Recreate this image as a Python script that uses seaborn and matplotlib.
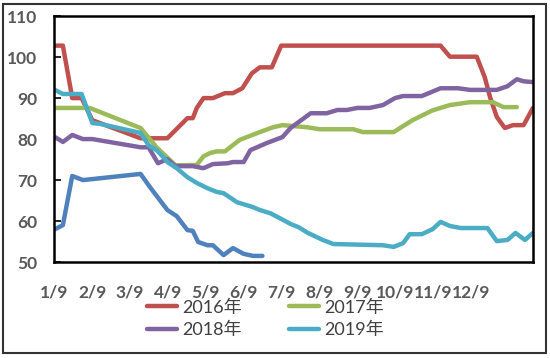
import matplotlib
matplotlib.use("Agg")
import matplotlib.pyplot as plt
import numpy as np
import pandas as pd
import seaborn as sns
from matplotlib.patches import Rectangle

# x values are days counted from 1/9
red_days = [0, 6, 13, 20, 28, 64, 84, 99, 103, 106, 111, 118, 127, 133, 140, 147, 153, 162, 169,
            288, 295, 315, 321, 325, 330, 336, 342, 350, 357]
red_vals = [102.8, 102.8, 90, 90, 84.6, 80.2, 80.2, 85.1, 85.1, 87.6, 90, 90, 91.2, 91.2, 92.4, 96,
            97.5, 97.5, 102.8, 102.8, 100.1, 100.1, 95.1, 90.2, 85.4, 82.7, 83.4, 83.4, 87.6]

green_days = [0, 26, 64, 76, 90, 106, 111, 116, 121, 127, 138, 153, 163, 170, 188, 198, 223, 230,
              253, 267, 282, 295, 310, 327, 335, 345]
green_vals = [87.6, 87.6, 82.7, 78, 73.6, 73.7, 75.8, 76.6, 77, 77, 79.8, 81.7, 82.9, 83.4, 82.9,
              82.4, 82.4, 81.7, 81.7, 84.6, 87, 88.3, 89, 89, 87.8, 87.8]

purple_days = [0, 6, 13, 21, 28, 64, 70, 77, 84, 90, 103, 111, 118, 129, 133, 141, 146, 158, 170,
               176, 191, 203, 211, 218, 226, 235, 245, 254, 260, 274, 288, 301, 310, 330, 338, 345,
               350, 357]
purple_vals = [80.5, 79.3, 81, 80, 80, 78, 78, 74.1, 75.1, 73.4, 73.4, 72.9, 73.9, 74.1, 74.4, 74.4,
               77.3, 79, 80.5, 82.7, 86.3, 86.3, 87.1, 87.1, 87.6, 87.6, 88.3, 90, 90.5, 90.5, 92.4,
               92.4, 92, 92, 92.9, 94.6, 94.1, 93.9]

cyan_days = [0, 6, 20, 28, 34, 64, 70, 76, 81, 84, 91, 99, 106, 114, 121, 126, 136, 148, 153, 161,
             168, 176, 182, 189, 200, 208, 245, 253, 260, 265, 274, 282, 288, 295, 303, 323, 330,
             338, 344, 351, 357]
cyan_vals = [92, 91, 91, 83.9, 83.7, 81.5, 78.5, 77.3, 75.6, 74.4, 72.9, 70.7, 69.3, 68, 67.1, 66.8,
             64.6, 63.4, 62.7, 61.9, 60.7, 59.3, 58.5, 57.1, 55.4, 54.4, 54.1, 53.7, 54.6, 56.8,
             56.8, 58, 59.8, 58.8, 58.3, 58.3, 55.1, 55.4, 57.1, 55.4, 57.1]

blue_days = [0, 6, 13, 21, 64, 71, 84, 91, 99, 103, 107, 114, 118, 126, 133, 141, 148, 155]
blue_vals = [58, 59, 71, 70, 71.5, 68.3, 62.7, 61.2, 57.8, 57.6, 54.9, 54.1, 54.1, 51.7, 53.4, 52,
             51.5, 51.5]

years = ["2016年", "2017年", "2018年", "2019年", "2020年"]
colors = ["#C0504D", "#9BBB59", "#8064A2", "#4BACC6", "#4F81BD"]
month_labels = ["1/9", "2/9", "3/9", "4/9", "5/9", "6/9", "7/9", "8/9", "9/9", "10/9", "11/9", "12/9"]
month_days = [0, 31, 59, 90, 120, 151, 181, 212, 243, 273, 304, 334]

series = [(red_days, red_vals), (green_days, green_vals), (purple_days, purple_vals),
          (cyan_days, cyan_vals), (blue_days, blue_vals)]
df = pd.concat(
    [pd.DataFrame({"day": d, "value": v, "year": y}) for (d, v), y in zip(series, years)],
    ignore_index=True,
)

sns.set_style("white")
plt.rcParams["font.family"] = ["Lato", "Noto Sans CJK SC", "DejaVu Sans"]

fig = plt.figure(figsize=(5.5, 3.58), dpi=100)
ax = fig.add_axes([0.098, 0.268, 0.871, 0.687])

sns.lineplot(data=df, x="day", y="value", hue="year", hue_order=years,
             palette=colors, linewidth=3.2, legend=False, ax=ax)

ax.set_xlim(-0.7, 357)
ax.set_ylim(50, 110)
ax.set_yticks(range(50, 111, 10))
ax.set_xticks(np.linspace(-0.5, 311, 12))
ax.set_xticklabels(month_labels)
ax.set_xticks(month_days, minor=True)
ax.set_xlabel("")
ax.set_ylabel("")

ax.tick_params(axis="x", which="major", length=0, pad=16)
ax.tick_params(axis="x", which="minor", direction="in", length=5, width=1.2, color="black")
ax.tick_params(axis="y", direction="in", length=5, width=1.2, color="black", pad=12, left=True)
for lbl in ax.get_xticklabels() + ax.get_yticklabels():
    lbl.set_fontsize(12.5)
    lbl.set_fontweight("bold")
    lbl.set_color("#595959")

for sp in ax.spines.values():
    sp.set_visible(True)
    sp.set_color("black")
    sp.set_linewidth(1.8)

# ncol=2 fills column by column, so reorder to get 2016/2017 on the first row
lines = ax.get_lines()
order = [0, 2, 1, 3]
fig.legend([lines[i] for i in order], [years[i] for i in order], loc="center",
           bbox_to_anchor=(0.482, 0.109), ncol=2, frameon=False, fontsize=13,
           handlelength=1.7, handletextpad=0.25, columnspacing=2.6, labelspacing=0.35,
           labelcolor="#404040")

fig.patches.append(Rectangle((0.006, 0.014), 0.986, 0.975, transform=fig.transFigure,
                             fill=False, edgecolor="#333333", linewidth=1.5))

fig.savefig("out.png", dpi=100)
plt.close(fig)
